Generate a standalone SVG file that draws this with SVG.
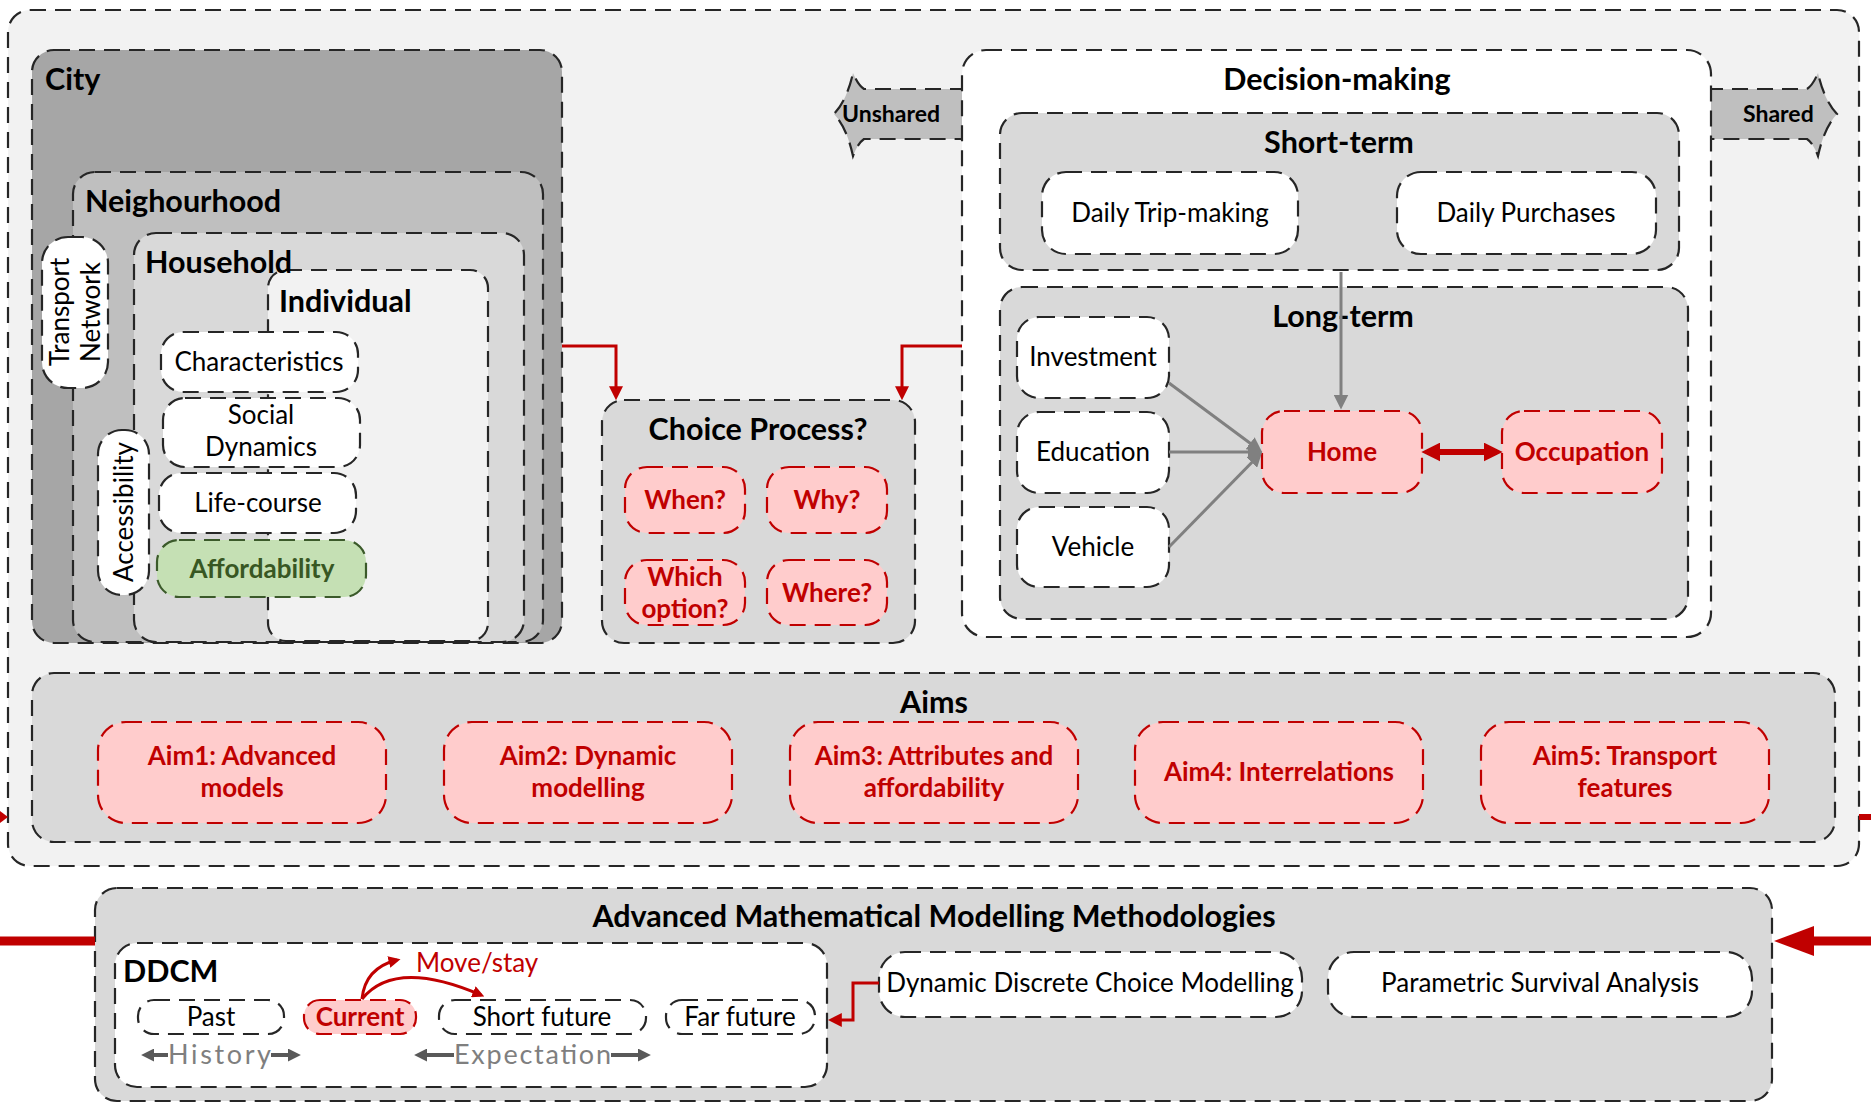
<svg xmlns="http://www.w3.org/2000/svg" width="1871" height="1109" viewBox="0 0 1871 1109">
  <style>
    text { font-family: Lato, "Liberation Sans", sans-serif; }
    .t { font-size: 30.5px; font-weight: 700; fill: #000; }
    .n { font-size: 26px; fill: #000; }
    .rb { font-size: 26px; font-weight: 700; fill: #c00000; }
    .sb { font-size: 23px; font-weight: 700; fill: #000; }
    .mid { text-anchor: middle; }
    .box { stroke: #262626; stroke-width: 2.2; stroke-dasharray: 16 9; }
    .pink { fill: #ffcccc; stroke: #c00000; stroke-width: 2.2; stroke-dasharray: 16 9; }
    .wl { stroke: #c00000; stroke-width: 3; fill: none; }
    .gl { stroke: #808080; stroke-width: 3; fill: none; }
    .hist { font-size: 27px; fill: #7f7f7f; }
    .dl { stroke: #595959; stroke-width: 4; fill: none; }
  </style>
  <defs>
    <marker id="arrR" viewBox="0 0 10 10" refX="7" refY="5" markerWidth="14" markerHeight="14" markerUnits="userSpaceOnUse" orient="auto-start-reverse">
      <path d="M0,0 L10,5 L0,10 z" fill="#c00000"/>
    </marker>
    <marker id="arrRs" viewBox="0 0 10 10" refX="7" refY="5" markerWidth="12" markerHeight="12" markerUnits="userSpaceOnUse" orient="auto-start-reverse">
      <path d="M0,0 L10,5 L0,10 z" fill="#c00000"/>
    </marker>
    <marker id="arrRb" viewBox="0 0 10 10" refX="7" refY="5" markerWidth="19" markerHeight="19" markerUnits="userSpaceOnUse" orient="auto-start-reverse">
      <path d="M0,0 L10,5 L0,10 z" fill="#c00000"/>
    </marker>
    <marker id="arrG" viewBox="0 0 10 10" refX="7" refY="5" markerWidth="15" markerHeight="15" markerUnits="userSpaceOnUse" orient="auto-start-reverse">
      <path d="M0,0 L10,5 L0,10 z" fill="#808080"/>
    </marker>
    <marker id="arrD" viewBox="0 0 10 10" refX="7" refY="5" markerWidth="13" markerHeight="13" markerUnits="userSpaceOnUse" orient="auto-start-reverse">
      <path d="M0,0 L10,5 L0,10 z" fill="#595959"/>
    </marker>
  </defs>

  <rect width="1871" height="1109" fill="#ffffff"/>

  <!-- outer frame -->
  <g id="frame">
    <rect class="box" x="8" y="10" width="1851" height="856" rx="22" fill="#f2f2f2"/>
  </g>

  <!-- nested spatial levels -->
  <g id="city">
    <rect class="box" x="32" y="50" width="530" height="593" rx="22" fill="#a6a6a6"/>
    <text class="t" x="45" y="90">City</text>
  </g>
  <g id="neighbourhood">
    <rect class="box" x="73" y="172" width="470" height="470" rx="22" fill="#bfbfbf"/>
    <text class="t" x="85" y="212">Neighourhood</text>
  </g>
  <g id="household">
    <rect class="box" x="134" y="233" width="390" height="409" rx="22" fill="#d9d9d9"/>
  </g>
  <g id="individual">
    <rect class="box" x="268" y="270" width="220" height="371" rx="18" fill="#f2f2f2"/>
    <text class="t" x="279" y="312">Individual</text>
  </g>
  <text class="t" x="145" y="273">Household</text>

  <g id="transport-network">
    <rect class="box" x="42" y="237" width="66" height="151" rx="26" fill="#fff"/>
    <g transform="translate(75,312) rotate(-90)">
      <text class="n mid" x="0" y="-6">Transport</text>
      <text class="n mid" x="0" y="25">Network</text>
    </g>
  </g>
  <g id="accessibility">
    <rect class="box" x="98" y="430" width="51" height="165" rx="24" fill="#fff"/>
    <text class="n mid" transform="translate(124,512) rotate(-90)" x="0" y="9">Accessibility</text>
  </g>
  <g id="characteristics">
    <rect class="box" x="161" y="332" width="197" height="60" rx="22" fill="#fff"/>
    <text class="n mid" x="259" y="371">Characteristics</text>
  </g>
  <g id="social-dynamics">
    <rect class="box" x="163" y="398" width="197" height="69" rx="22" fill="#fff"/>
    <text class="n mid" x="261" y="424">Social</text>
    <text class="n mid" x="261" y="456">Dynamics</text>
  </g>
  <g id="life-course">
    <rect class="box" x="159" y="473" width="197" height="60" rx="22" fill="#fff"/>
    <text class="n mid" x="258" y="512">Life-course</text>
  </g>
  <g id="affordability">
    <rect x="157" y="540" width="209" height="57" rx="22" fill="#c5e0b4" stroke="#3b5a2a" stroke-width="2.2" stroke-dasharray="16 9"/>
    <text class="mid" x="262" y="578" font-size="26" font-weight="700" fill="#385723">Affordability</text>
  </g>

  <!-- choice process -->
  <g id="choice-process">
    <rect class="box" x="602" y="400" width="313" height="243" rx="22" fill="#d9d9d9"/>
    <text class="t mid" x="758" y="440">Choice Process?</text>
  </g>
  <g id="when">
    <rect class="pink" x="625" y="467" width="120" height="66" rx="22"/>
    <text class="rb mid" x="685" y="509">When?</text>
  </g>
  <g id="why">
    <rect class="pink" x="767" y="467" width="120" height="66" rx="22"/>
    <text class="rb mid" x="827" y="509">Why?</text>
  </g>
  <g id="which-option">
    <rect class="pink" x="625" y="560" width="120" height="65" rx="22"/>
    <text class="rb mid" x="685" y="586">Which</text>
    <text class="rb mid" x="685" y="618">option?</text>
  </g>
  <g id="where">
    <rect class="pink" x="767" y="560" width="120" height="65" rx="22"/>
    <text class="rb mid" x="827" y="602">Where?</text>
  </g>

  <!-- shared / unshared tags -->
  <g id="unshared">
    <path class="box" fill="#bfbfbf" d="M966 89 H864 Q858 85 853 73 Q847 100 834 114 Q847 128 853 156 Q858 143 864 139 H966"/>
    <text class="sb" x="842" y="122">Unshared</text>
  </g>
  <g id="shared">
    <path class="box" fill="#bfbfbf" d="M1707 89 H1807 Q1813 85 1818 73 Q1824 100 1837 114 Q1824 128 1818 156 Q1813 143 1807 139 H1707"/>
    <text class="sb" x="1743" y="122">Shared</text>
  </g>

  <!-- decision making -->
  <g id="decision-making">
    <rect class="box" x="962" y="50" width="749" height="587" rx="24" fill="#fff"/>
    <text class="t mid" x="1337" y="90">Decision-making</text>
  </g>
  <g id="short-term">
    <rect class="box" x="1000" y="113" width="679" height="157" rx="22" fill="#d9d9d9"/>
    <text class="t mid" x="1339" y="153">Short-term</text>
  </g>
  <g id="daily-trip-making">
    <rect class="box" x="1042" y="172" width="256" height="82" rx="24" fill="#fff"/>
    <text class="n mid" x="1170" y="222">Daily Trip-making</text>
  </g>
  <g id="daily-purchases">
    <rect class="box" x="1397" y="172" width="259" height="82" rx="24" fill="#fff"/>
    <text class="n mid" x="1526" y="222">Daily Purchases</text>
  </g>
  <g id="long-term">
    <rect class="box" x="1000" y="287" width="688" height="332" rx="22" fill="#d9d9d9"/>
    <text class="t mid" x="1343" y="327">Long-term</text>
  </g>
  <g id="investment">
    <rect class="box" x="1017" y="317" width="152" height="81" rx="22" fill="#fff"/>
    <text class="n mid" x="1093" y="366">Investment</text>
  </g>
  <g id="education">
    <rect class="box" x="1017" y="412" width="152" height="81" rx="22" fill="#fff"/>
    <text class="n mid" x="1093" y="461">Education</text>
  </g>
  <g id="vehicle">
    <rect class="box" x="1017" y="507" width="152" height="80" rx="22" fill="#fff"/>
    <text class="n mid" x="1093" y="556">Vehicle</text>
  </g>
  <g id="home">
    <rect class="pink" x="1262" y="411" width="160" height="82" rx="22"/>
    <text class="rb mid" x="1342" y="461">Home</text>
  </g>
  <g id="occupation">
    <rect class="pink" x="1502" y="411" width="160" height="82" rx="22"/>
    <text class="rb mid" x="1582" y="461">Occupation</text>
  </g>

  <!-- aims -->
  <g id="aims">
    <rect class="box" x="32" y="673" width="1803" height="169" rx="22" fill="#d9d9d9"/>
    <text class="t mid" x="934" y="713">Aims</text>
  </g>
  <g id="aim1">
    <rect class="pink" x="98" y="722" width="288" height="101" rx="28"/>
    <text class="rb mid" x="242" y="765">Aim1: Advanced</text>
    <text class="rb mid" x="242" y="797">models</text>
  </g>
  <g id="aim2">
    <rect class="pink" x="444" y="722" width="288" height="101" rx="28"/>
    <text class="rb mid" x="588" y="765">Aim2: Dynamic</text>
    <text class="rb mid" x="588" y="797">modelling</text>
  </g>
  <g id="aim3">
    <rect class="pink" x="790" y="722" width="288" height="101" rx="28"/>
    <text class="rb mid" x="934" y="765">Aim3: Attributes and</text>
    <text class="rb mid" x="934" y="797">affordability</text>
  </g>
  <g id="aim4">
    <rect class="pink" x="1135" y="722" width="288" height="101" rx="28"/>
    <text class="rb mid" x="1279" y="781">Aim4: Interrelations</text>
  </g>
  <g id="aim5">
    <rect class="pink" x="1481" y="722" width="288" height="101" rx="28"/>
    <text class="rb mid" x="1625" y="765">Aim5: Transport</text>
    <text class="rb mid" x="1625" y="797">features</text>
  </g>

  <!-- methodologies -->
  <g id="methodologies">
    <rect class="box" x="95" y="888" width="1677" height="213" rx="22" fill="#d9d9d9"/>
    <text class="t mid" x="934" y="927">Advanced Mathematical Modelling Methodologies</text>
  </g>
  <g id="ddcm">
    <rect class="box" x="115" y="943" width="712" height="144" rx="22" fill="#fff"/>
    <text class="t" x="123" y="982">DDCM</text>
    <text x="416" y="972" font-size="26" fill="#c00000">Move/stay</text>
    <text class="hist mid" x="219.5" y="1064" textLength="103" lengthAdjust="spacing">History</text>
    <text class="hist mid" x="532.5" y="1064" textLength="157" lengthAdjust="spacing">Expectation</text>
    <path class="dl" d="M168 1055 H145" marker-end="url(#arrD)"/>
    <path class="dl" d="M271 1055 H297" marker-end="url(#arrD)"/>
    <path class="dl" d="M454 1055 H418" marker-end="url(#arrD)"/>
    <path class="dl" d="M611 1055 H647" marker-end="url(#arrD)"/>
  </g>
  <g id="past">
    <rect class="box" x="138" y="1000" width="146" height="34" rx="16" fill="#fff"/>
    <text class="n mid" x="211" y="1026">Past</text>
  </g>
  <g id="current">
    <rect class="pink" x="304" y="1000" width="112" height="34" rx="16"/>
    <text class="rb mid" x="360" y="1026">Current</text>
  </g>
  <g id="short-future">
    <rect class="box" x="439" y="1000" width="207" height="34" rx="16" fill="#fff"/>
    <text class="n mid" x="542" y="1026">Short future</text>
  </g>
  <g id="far-future">
    <rect class="box" x="666" y="1000" width="149" height="34" rx="16" fill="#fff"/>
    <text class="n mid" x="740" y="1026">Far future</text>
  </g>
  <g id="dynamic-discrete-choice">
    <rect class="box" x="879" y="952" width="423" height="65" rx="26" fill="#fff"/>
    <text class="n mid" x="1090" y="992">Dynamic Discrete Choice Modelling</text>
  </g>
  <g id="parametric-survival">
    <rect class="box" x="1328" y="952" width="424" height="65" rx="26" fill="#fff"/>
    <text class="n mid" x="1540" y="992">Parametric Survival Analysis</text>
  </g>

  <!-- connectors -->
  <g id="connectors">
    <path class="wl" d="M562 346 H616 V396" marker-end="url(#arrR)"/>
    <path class="wl" d="M962 346 H902 V396" marker-end="url(#arrR)"/>
    <path class="gl" d="M1341 272 V405" marker-end="url(#arrG)"/>
    <path class="gl" d="M1169 383 L1258.6 449.5" marker-end="url(#arrG)"/>
    <path class="gl" d="M1169 452 H1258" marker-end="url(#arrG)"/>
    <path class="gl" d="M1169 547 L1259.1 455" marker-end="url(#arrG)"/>
    <path d="M1427 452 H1497" stroke="#c00000" stroke-width="6" fill="none" marker-start="url(#arrRb)" marker-end="url(#arrRb)"/>
    <path class="wl" d="M879 983 H853 V1020 H832" marker-end="url(#arrR)"/>
    <path class="wl" d="M362 999 Q365 968 397 960" marker-end="url(#arrRs)"/>
    <path class="wl" d="M362 999 Q395 958 481 995" marker-end="url(#arrRs)"/>
    <path d="M0 941 H95" stroke="#c00000" stroke-width="9" fill="none"/>
    <path d="M1871 941 H1810" stroke="#c00000" stroke-width="9" fill="none"/>
    <polygon points="1774,941 1814,926 1814,956" fill="#c00000"/>
    <polygon points="8,817 0,811 0,823" fill="#c00000"/>
    <path d="M1859 817 H1871" stroke="#c00000" stroke-width="6" fill="none"/>
  </g>
</svg>
